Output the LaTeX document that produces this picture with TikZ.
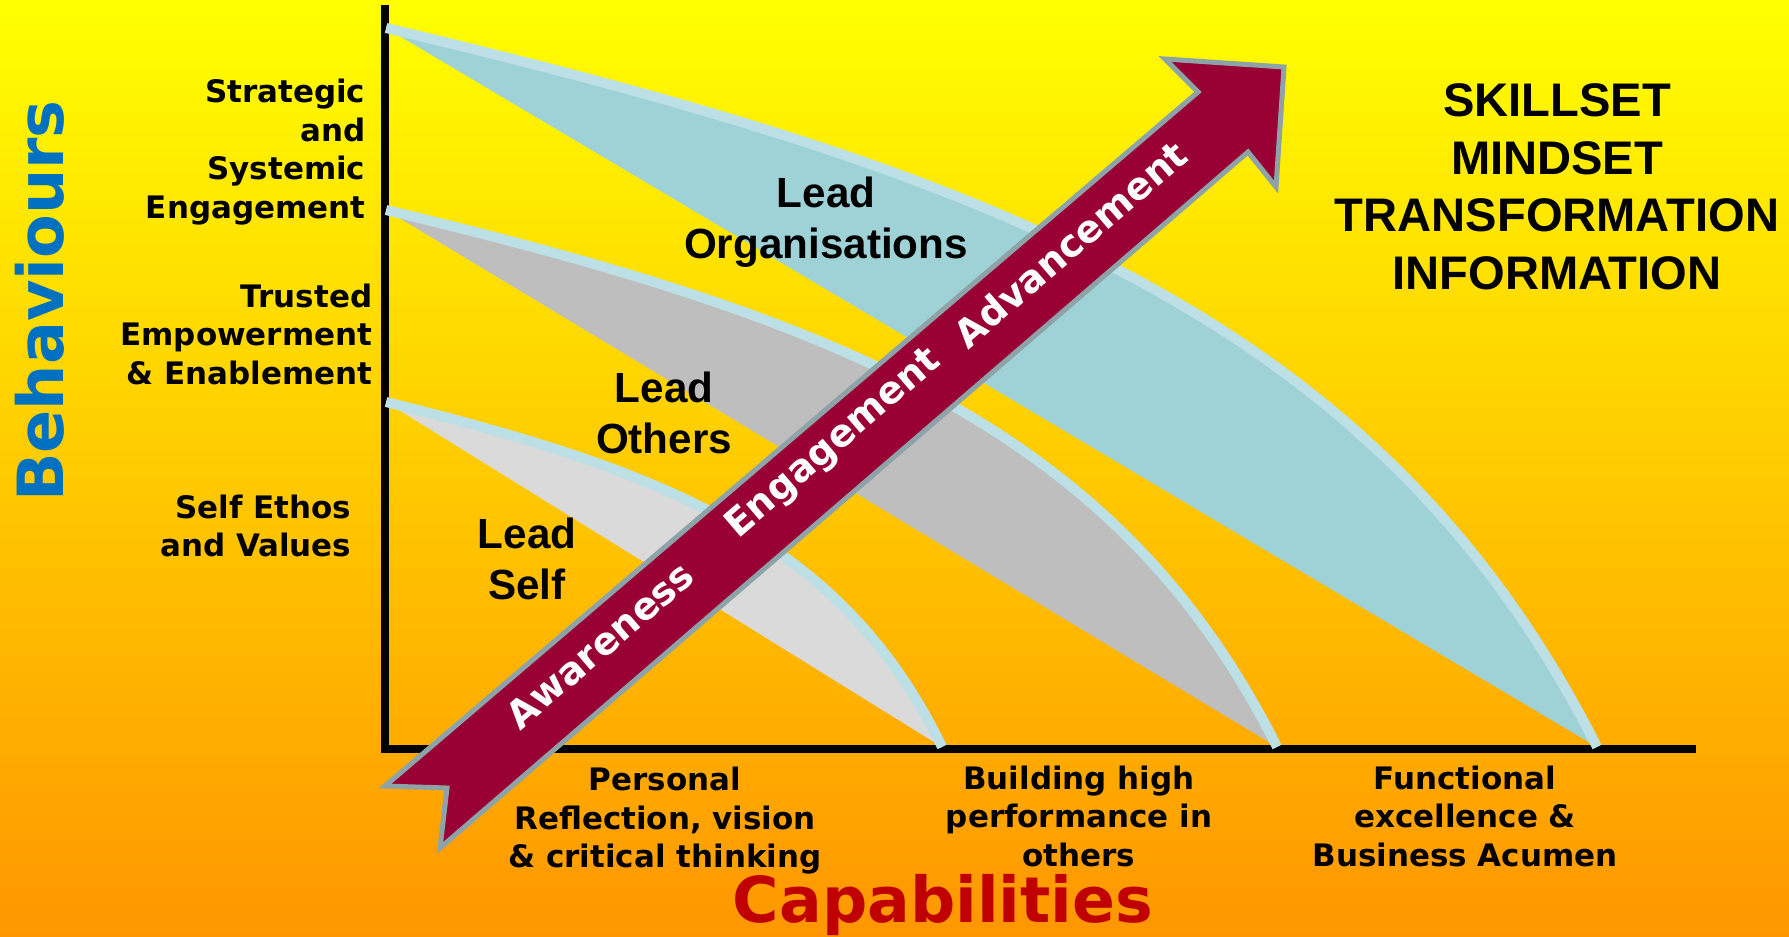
\documentclass[tikz,border=0pt]{standalone}
\usepackage{fontspec}
\newfontfamily\verd{DejaVu Sans}
\newfontfamily\arl{Liberation Sans}
\definecolor{bgtop}{RGB}{255,255,0}
\definecolor{bgbot}{RGB}{255,150,0}
\definecolor{bandblue}{RGB}{188,224,229}
\definecolor{leafblue}{RGB}{159,210,215}
\definecolor{leafgray}{RGB}{190,190,190}
\definecolor{leaflight}{RGB}{218,218,218}
\definecolor{arrowred}{RGB}{153,0,51}
\definecolor{arrowedge}{RGB}{142,163,168}
\definecolor{behblue}{RGB}{0,112,192}
\definecolor{capred}{RGB}{192,0,0}
\begin{document}
\begin{tikzpicture}[x=0.01cm,y=-0.01cm,
  band/.style={draw=bandblue,line width=0.1cm},
  axisline/.style={draw=black,line width=0.08cm,line join=miter},
  vlabel/.style={font=\verd\bfseries\fontsize{8.8}{10.95}\selectfont,inner sep=0pt},
  leadlabel/.style={font=\arl\bfseries\fontsize{12}{14.5}\selectfont,inner sep=0pt,align=center},
  arrowtext/.style={font=\verd\bfseries\fontsize{10.8}{13}\selectfont,text=white,inner sep=0pt,rotate=40.6},
  bigarrow/.style={draw=arrowedge,fill=arrowred,line width=0.05cm,line join=miter}]
\shade[top color=bgtop,bottom color=bgbot] (0,0) rectangle (1789,936);
\useasboundingbox (0,0) rectangle (1789,936);

% axes
\coordinate (ytop) at (385,5);
\coordinate (xend) at (1696,749);
\draw[axisline] (ytop) |- (xend);

% leaves
\coordinate (S1) at (386,28);  \coordinate (T1) at (1597,747);
\coordinate (S2) at (386,210); \coordinate (T2) at (1277,747);
\coordinate (S3) at (386,402); \coordinate (T3) at (942,747);
\fill[leafblue] (S1) .. controls (992,172) and (1379,316) .. (T1) -- cycle;
\draw[band] (S1) .. controls (992,172) and (1379,316) .. (T1);
\fill[leafgray] (S2) .. controls (832,317) and (1116,425) .. (T2) -- cycle;
\draw[band] (S2) .. controls (832,317) and (1116,425) .. (T2);
\fill[leaflight] (S3) .. controls (665,471) and (842,540) .. (T3) -- cycle;
\draw[band] (S3) .. controls (665,471) and (842,540) .. (T3);

% big arrow
\coordinate (aL) at (385,786);
\coordinate (aN) at (447,788);
\coordinate (aB) at (440,848);
\coordinate (aIB) at (1248,152);
\coordinate (aBB) at (1276,187);
\coordinate (aTip) at (1284,67);
\coordinate (aBT) at (1165,59);
\coordinate (aIT) at (1198,92);
\draw[bigarrow] (aL) -- (aN) -- (aB) -- (aIB) -- (aBB) -- (aTip) -- (aBT) -- (aIT) -- cycle;
\node[arrowtext] (aw) at (600,645) {Awareness};
\node[arrowtext] (en) at (834,444) {Engagement};
\node[arrowtext] (ad) at (1070,244) {Advancement};

% leaf labels
\node[leadlabel] (lorg) at (826,222) {Lead\\Organisations};
\node[leadlabel] (loth) at (664,413) {Lead\\Others};
\node[leadlabel] (lself) at (527,559) {Lead\\Self};

% behaviour labels
\node[vlabel,align=right,anchor=east] (b1) at (366,152) {Strategic\\and\\Systemic\\Engagement};
\node[vlabel,align=right,anchor=east] (b2) at (373,334) {Trusted\\Empowerment\\\& Enablement};
\node[vlabel,align=right,anchor=east] (b3) at (352,526) {Self Ethos\\and Values};

% capability labels
\node[vlabel,align=center] (c1) at (665,821) {Personal\\Reflection, vision\\\& critical thinking};
\node[vlabel,align=center] (c2) at (1079,816) {Building high\\performance in\\others};
\node[vlabel,align=center] (c3) at (1465,816) {Functional\\excellence \&\\Business Acumen};

% axis titles
\node[font=\verd\bfseries\fontsize{18.1}{21}\selectfont,text=behblue,rotate=90,inner sep=0pt] (beh) at (40,301) {Behaviours};
\node[font=\verd\bfseries\fontsize{18}{21}\selectfont,text=capred,inner sep=0pt,anchor=base] (cap) at (943,922) {Capabilities};

% right text
\node[font=\arl\bfseries\fontsize{13.4}{16.35}\selectfont,align=center,inner sep=0pt] (sk) at (1557,187) {SKILLSET\\MINDSET\\TRANSFORMATION\\INFORMATION};
\end{tikzpicture}
\end{document}
